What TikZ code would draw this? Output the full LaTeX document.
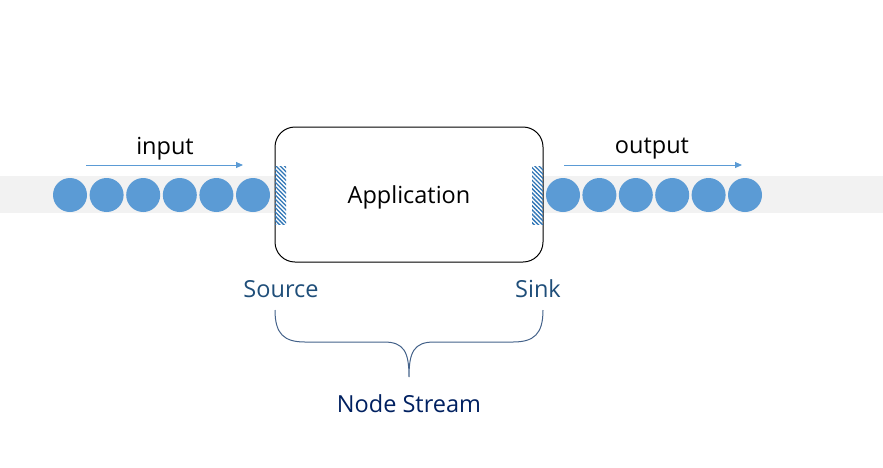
\documentclass[tikz,border=0pt]{standalone}
\usepackage{fontspec}
\setmainfont{Open Sans}
\usetikzlibrary{patterns.meta,arrows.meta}
\definecolor{band}{HTML}{F2F2F2}
\definecolor{ball}{HTML}{5B9BD5}
\definecolor{hatch}{HTML}{2E75B6}
\definecolor{lbl}{HTML}{1F4E79}
\definecolor{navy}{HTML}{002060}
\definecolor{bracec}{HTML}{44628A}
\tikzset{
  ball/.style={circle,fill=ball,draw=none,minimum size=34pt,inner sep=0pt},
  appbox/.style={draw=black,line width=1pt,rounded corners=20pt,minimum width=268pt,minimum height=135pt,inner sep=0pt,fill=white},
  port/.style={draw=none,pattern={Lines[angle=-45,distance=3pt,line width=1.3pt]},pattern color=hatch,minimum width=11pt,minimum height=58pt,inner sep=0pt},
  flow/.style={draw=ball,line width=0.9pt,-{Triangle[length=7pt,width=6pt]}},
  txt/.style={font=\fontsize{23.5}{28}\selectfont,inner sep=0pt},
  brace/.style={draw=bracec,line width=1pt}
}
\begin{document}
\begin{tikzpicture}[x=1pt,y=-1pt]
\useasboundingbox (0,0) rectangle (883,467);
\fill[band] (0,176) rectangle (883,213);
\foreach \i/\x in {1/70,2/106.6,3/143.2,4/179.8,5/216.4,6/253}{
  \node[ball] (l\i) at (\x,195) {};
}
\foreach \i/\x in {1/563,2/599.4,3/635.8,4/672.2,5/708.6,6/745}{
  \node[ball] (r\i) at (\x,195) {};
}
\node[appbox] (app) at (409,194.5) {};
\node[txt] (apptxt) at (409,197.5) {Application};
\node[port] (src) at (280.5,195) {};
\node[port] (snk) at (537.5,195) {};
\coordinate (ia) at (86,165);
\coordinate (ib) at (243,165);
\coordinate (oa) at (564,165);
\coordinate (ob) at (742,165);
\draw[flow] (ia) -- (ib);
\draw[flow] (oa) -- (ob);
\node[txt] (input) at (165,148.5) {input};
\node[txt] (output) at (652,148.5) {output};
\node[txt,text=lbl] (source) at (281,289) {Source};
\node[txt,text=lbl] (sink) at (538,289) {Sink};
\node[txt,text=navy] (ns) at (409,404) {Node Stream};
\coordinate (bl) at (275,310);
\coordinate (bm) at (409,377);
\coordinate (br) at (543,310);
\draw[brace] (bl) .. controls (275,334) and (284,342) .. (305,342) -- (384,342)
  .. controls (404,342) and (409,352) .. (bm)
  .. controls (409,352) and (414,342) .. (434,342) -- (513,342)
  .. controls (534,342) and (543,334) .. (br);
\end{tikzpicture}
\end{document}
